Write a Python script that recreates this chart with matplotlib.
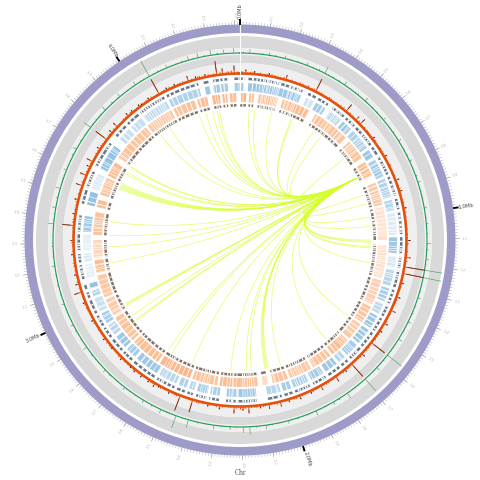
import numpy as np
import matplotlib
matplotlib.use('Agg')
import matplotlib.pyplot as plt

# all positions are degrees clockwise from the top of the circle
deg_per_mb = 81.5
genome_mb = 4.417

# outer histogram, spike position and height
red_pos = [16, 27, 39.5, 44, 46, 52.6, 60, 69, 73, 79, 90, 96, 99.3, 101.6, 120, 128, 138, 145, 151, 159, 166, 170,
           177, 179, 182, 196.5, 201, 209, 210.7, 216, 218.8, 220.7, 225, 229.8, 233.9, 241.3, 248, 251.8, 254.7,
           270, 275, 279, 284, 289, 292.8, 296, 298, 307, 312.7, 318, 320, 323, 324, 331, 337, 342, 344.7, 348, 352,
           354, 358, 2, 5, 10, 105, 110, 115, 123, 133, 141, 155, 163, 173, 187, 191, 205, 213, 265, 258, 303, 310,
           327, 334]
red_h = [5, 14, 9, 5, 7, 3, 3, 4, 3, 3, 3, 5, 21, 21, 4, 17, 17, 6, 5, 4, 5, 5,
         7, 4, 7, 13, 16, 2, 4, 3, 3, 2, 3, 2, 3, 3, 3, 8, 4,
         4, 12, 3, 4, 7, 7, 4, 7, 14, 6, 4, 3, 3, 2, 17, 3, 6, 3, 3, 14,
         6, 8, 4, 3, 3, 3, 4, 5, 3, 4, 3, 3, 3, 3, 4, 3, 3, 3, 3, 3, 4, 4,
         3, 3]
red_small_pos = [1, 3.5, 7, 8.5, 12, 14, 18, 20, 22, 24, 25.5, 29, 31, 33, 35, 37, 41, 43, 48, 50, 55, 57, 62, 64, 66,
                 71, 75, 77, 82, 85, 88, 92, 94, 103, 107, 112, 118, 125, 130, 135, 140, 143, 147, 149, 153, 157, 161,
                 165, 168, 172, 175, 180, 184, 186, 189, 193, 195, 198, 203, 207, 212, 215, 222, 227, 231, 236, 239,
                 244, 246, 250, 256, 261, 263, 268, 273, 277, 282, 286, 291, 294, 300, 301, 305, 309, 315, 316, 322,
                 326, 329, 333, 336, 339, 341, 346, 350, 351, 356, 357, 359]
red_small_h = [2, 2, 2, 1, 2, 1.5, 2, 1, 2, 2.5, 1.5, 2, 1, 2, 1.5, 2, 2, 1, 2, 1.5, 1, 2, 1, 1.5, 1,
               1.5, 1, 2, 1.5, 1, 1.5, 1, 2, 1, 1.5, 2, 1, 1.5, 2, 1.5, 2, 1, 1.5, 2, 1.5, 1, 2,
               1, 1.5, 2, 2, 2.5, 1.5, 2, 1, 1.5, 2, 1, 2, 1.5, 2, 1, 1.5, 1, 2, 1.5, 1,
               1, 2, 1.5, 1, 2, 1, 1.5, 1, 2, 1.5, 2, 1.5, 2, 1, 2, 1.5, 2, 1, 2, 1.5,
               2, 1, 2, 1.5, 2, 1, 2.5, 1.5, 2, 2.5, 3, 2]
red_fine_pos = [0.4, 2.6, 4.4, 6.2, 9.3, 11, 13.1, 15.2, 17.3, 19.1, 21, 23, 26.2, 28.1, 30, 32.2, 34.1, 36, 38.2,
                40.4, 42.3, 45.1, 47.2, 49.3, 51.2, 53.8, 56.1, 58.3, 61.2, 63.4, 65.3, 67.4, 70.2, 72.1, 74.2, 76.1,
                78.3, 80.4, 83.3, 86.2, 89.1, 91.3, 93.2, 95.1, 97.4, 104.2, 106.3, 108.4, 111.1, 113.3, 116.4, 119.2,
                121.6, 124.2, 126.4, 129.3, 131.2, 134.1, 136.3, 139.2, 142.1, 144.3, 146.2, 148.1, 150.3, 152.4,
                154.2, 156.1, 158.2, 160.3, 162.2, 164.1, 167.2, 169.1, 171.3, 174.2, 176.1, 178.3, 181.2, 183.1,
                185.2, 188.1, 190.2, 192.3, 194.2, 197.1, 199.3, 202.2, 204.1, 206.3, 208.2, 211.3, 214.1, 217.2,
                219.4, 221.5, 223.4, 226.2, 228.3, 230.4, 232.3, 235.1, 237.4, 240.2, 242.4, 245.1, 247.3, 249.2,
                253.1, 255.4, 257.2, 259.4, 262.1, 264.3, 266.2, 269.1, 271.3, 274.2, 276.1, 278.3, 280.4, 283.1,
                285.3, 287.4, 290.2, 293.3, 295.1, 297.2, 299.3, 302.1, 304.2, 306.1, 308.3, 311.2, 314.1, 317.2,
                319.3, 321.1, 325.2, 328.1, 330.2, 332.3, 335.1, 338.2, 340.1, 343.2, 345.3, 347.2, 349.1, 353.2, 355.3]
red_fine_h = [2, 1, 2, 1, 1.5, 2, 1, 2, 1, 1.5, 2, 1, 2, 1.5, 1, 2, 1, 1.5, 2,
              1, 1.5, 2, 1, 1.5, 1, 2, 1, 1.5, 1, 2, 1, 1.5, 1, 2, 1, 1.5,
              1, 2, 1, 1.5, 1, 2, 1, 1.5, 2, 1, 1.5, 1, 2, 1, 1.5, 2,
              1, 1.5, 2, 1, 1.5, 2, 1, 1.5, 2, 1, 1.5, 2, 1, 1.5,
              2, 1, 1.5, 2, 1, 1.5, 2, 1, 1.5, 2, 1.5, 2, 2, 1.5,
              1, 2, 1.5, 1, 2, 1.5, 1, 2, 1.5, 1, 2, 1.5, 1, 1.5,
              2, 1, 1.5, 2, 1, 1.5, 2, 1, 1.5, 2, 1, 1.5, 2, 1,
              1.5, 2, 1, 1.5, 2, 1, 1.5, 2, 1, 1.5, 2, 1, 1.5, 2,
              1, 1.5, 2, 1, 1.5, 2, 1, 1.5, 2, 1, 1.5, 2, 1, 1.5,
              2, 1, 1.5, 2, 1, 1.5, 2, 1.5, 2, 1.5, 2, 1.5, 2, 2.5, 2]

green_pos = [99.3, 101.6, 128, 138, 145, 27, 177, 179, 200, 196, 307, 275, 331, 351, 355, 358, 3, 9, 14, 21, 34, 42,
             50, 58, 65, 72, 80, 85, 91, 96, 108, 116, 122, 133, 150, 156, 165, 172, 183, 188, 205, 211, 218, 226,
             235, 243, 250, 262, 280, 286, 292, 299, 314, 320, 326, 337, 344, 347]
green_h = [18, 18, 18, 16, 6, 7, 8, 6, 13, 8, 8, 6, 18, 6, 4, 5, 4, 3, 3, 3, 4, 4,
           3, 3, 3, 3, 3, 2, 4, 3, 3, 3, 4, 4, 3, 5, 3, 4, 3, 4, 4, 3, 3, 3,
           4, 3, 3, 3, 4, 5, 3, 4, 5, 4, 4, 3, 4, 5]
green_small_pos = [1, 5, 7, 11, 16, 18, 23, 25, 30, 32, 37, 39, 45, 47, 53, 55, 61, 63, 68, 70, 75, 77, 83, 88, 93, 104,
                   106, 111, 113, 119, 125, 130, 135, 141, 143, 148, 153, 159, 162, 168, 170, 175, 181, 186, 191, 193,
                   198, 203, 208, 214, 216, 221, 224, 229, 232, 238, 241, 246, 248, 253, 256, 259, 265, 268, 271, 278,
                   283, 289, 295, 297, 302, 305, 310, 312, 317, 323, 329, 334, 340, 342, 349, 353]
green_small_h = [2, 1, 1.5, 2, 1, 1.5, 1, 2, 1, 1.5, 1, 2, 1, 1.5, 1, 2, 1, 1.5, 1, 2, 1, 1.5, 1, 1.5, 2, 1,
                 1.5, 1, 2, 1, 1.5, 2, 1, 1.5, 1, 2, 1, 1.5, 2, 1, 1.5, 2, 1, 1.5, 1, 2,
                 1, 1.5, 2, 1, 1.5, 1, 2, 1, 1.5, 1, 2, 1, 1.5, 1, 2, 1, 1.5, 2, 1, 1.5,
                 2, 1.5, 1, 2, 1.5, 1, 2, 1.5, 2, 1, 1.5, 2, 1, 2, 1.5, 2]

# gene blocks, start, end and shade
blue_start = [3, 25, 29, 35, 41, 46, 55, 59, 67, 75, 80, 89, 96, 101, 108, 114, 119, 125, 132, 138, 142, 148, 154, 161,
              165, 174, 181, 187.5, 192, 197, 200, 204, 212, 222, 227, 233, 238, 243, 249, 252, 256, 262, 266, 273,
              283, 289, 297, 310, 316, 322, 333, 347, 350, 353, 358]
blue_end = [23, 28, 33, 40, 45, 54, 58, 66, 74, 79, 88, 95, 100, 107, 113, 118, 124, 131, 137, 141, 147, 153, 160, 164,
            170, 180.5, 185, 191, 196, 199, 203, 211, 221, 226, 232, 237, 242, 248, 251, 254, 261, 265, 272, 279,
            288, 295, 307, 315, 321, 332, 345, 348.7, 352.5, 355.5, 361.5]
blue_shade = [.55, .25, .5, .35, .55, .45, .55, .5, .45, .4, .2, .55, .25, .4, .5, .35, .55, .55, .5, .4, .55, .5, .45,
              .5, .4, .55, .5, .45, .5, .4, .45, .4, .55, .5, .55, .4, .5, .3, .4, .6, .15, .2, .15, .55,
              .6, .2, .6, .3, .3, .35, .45, .55, .5, .5, .5]
orange_start = [0, 3.6, 7.2, 17, 31, 48, 58, 67, 77, 92, 106, 117, 125, 133, 142, 151, 161, 169, 173, 180, 189, 200,
                214, 227, 239, 247, 257, 263, 272, 283, 288, 296, 304, 321, 333, 343, 349, 353, 356]
orange_end = [2.5, 5.6, 15, 28, 46, 56, 64, 76, 90, 105, 116, 124, 132, 141, 150, 160, 167, 171, 180, 188, 199, 213,
              226, 238, 246, 256, 262, 270, 281, 286, 295, 302, 320, 332, 342, 347, 352, 355, 358.5]
orange_shade = [.6, .5, .5, .55, .5, .5, .55, .45, .25, .25, .4, .5, .45, .55, .5, .45, .5, .3, .5, .55, .5, .6,
                .55, .5, .45, .45, .55, .35, .5, .55, .5, .55, .5, .45, .5, .55, .6, .55, .55]

blue_gaps = [4.6, 6.1, 7.3, 9, 10.4, 12.2, 13.5, 14.6, 16.3, 17.9, 19.2, 20.8, 22, 26.5, 30.4, 31.8, 36.6, 38.2, 42.2,
             43.6, 47.4, 48.9, 50.2, 52.1, 56.3, 60.4, 62, 63.7, 65, 68.1, 69.8, 71.2, 72.9, 76.2, 77.8, 81.3, 82.6,
             84.4, 85.9, 87.2, 90.5, 92.3, 93.9, 97.1, 98.6, 102.4, 104, 105.6, 109.3, 110.8, 112.1, 115.4, 116.9,
             120.2, 122, 123.3, 126.7, 128.1, 129.9, 133.6, 135.2, 139.4, 143.3, 145.1, 149.4, 151, 155.2, 157, 158.8,
             162.4, 166.3, 168.2, 175.4, 177.1, 178.9, 182.6, 184, 188.7, 190.2, 193.1, 194.8, 201.3, 205.2, 206.9,
             208.4, 210, 213.5, 215.2, 217, 219.3, 223.4, 225, 228.2, 230.1, 234.4, 236, 239.2, 241, 244.6, 246.3,
             257.2, 258.9, 260.3, 263.2, 267.1, 268.8, 270.4, 274.6, 276.3, 277.8, 284.2, 286.1, 290.3, 292.2, 293.9,
             298.3, 300.1, 302, 304.2, 305.8, 311.6, 313.2, 317.1, 319, 323.4, 325.2, 327, 329.1, 330.8, 334.3, 336,
             338.2, 340.1, 342, 343.9, 351.1, 354.2, 359.6]
orange_gaps = [1.2, 4.6, 8.4, 9.9, 11.2, 12.8, 14.1, 18.3, 19.7, 21.4, 23, 24.6, 26.3, 32.1, 33.8, 35.4, 37.2, 38.9,
               40.7, 42.3, 44.2, 49.3, 51, 52.8, 54.4, 59.2, 60.8, 62.7, 68.3, 70.1, 71.9, 73.6, 75, 78.3, 80, 81.7,
               83.1, 84.9, 86.4, 88.2, 93.2, 94.9, 96.3, 98, 99.6, 101.2, 103.1, 107.3, 109, 110.7, 112.3, 114.2,
               118.4, 120, 121.8, 126.3, 128, 129.7, 134.2, 136.1, 138, 139.7, 143.4, 145.2, 147, 148.7, 152.3, 154.2,
               156, 158.1, 162.5, 164.3, 165.9, 174.4, 176.2, 178.1, 181.3, 183, 185.2, 186.9, 190.4, 192.3, 194.1,
               196, 197.9, 201.4, 203.2, 205.1, 207, 209, 211.1, 215.3, 217.2, 219, 221.2, 223.4, 228.3, 230.2, 232.1,
               234.3, 236.2, 240.4, 242.3, 244.2, 248.3, 250.2, 252.1, 254, 258.2, 260, 264.3, 266.2, 268.1, 273.4,
               275.2, 277, 279, 284.2, 289.3, 291, 293.1, 297.2, 299.4, 305.2, 307, 309.1, 311.3, 313.2, 315.1, 317.3,
               322.4, 324.3, 326.2, 328.1, 330, 334.2, 336, 338.2, 340.1, 344.2, 345.8, 350.2, 354, 357.2]

# link ends on the inner circle, every link starts from the same locus
link_source = 62
link_targets = [4, 6.5, 14, 23, 23.5, 34, 38, 52, 70, 74, 80, 84, 90, 90.5, 91, 93, 93.5, 100, 125, 139, 162,
                167.5, 168, 168.5, 169, 175, 177, 184, 201, 211, 213, 232, 232.5, 235, 240, 240.5, 241, 260, 267, 272,
                278, 293, 293.5, 294, 294.5, 295, 295.5, 300, 301, 303.6, 304, 323, 328, 342, 345, 348, 350, 351]

major_labels = ['0.0Mb', '1.0Mb', '2.0Mb', '3.0Mb', '4.0Mb']


def to_rad(v):
    return np.radians(np.asarray(v, dtype=float))


def radial_text(ax, angle, r, txt, **kw):
    rot = 90 - angle if angle % 360 <= 180 else 270 - angle
    ax.text(np.radians(angle), r, txt, rotation=rot, rotation_mode='anchor', ha='center', va='center', **kw)


def blocks(ax, start, end, shade, bottom, height, color):
    start = np.array(start)
    end = np.array(end)
    for s, e, a in zip(start, end, shade):
        ax.bar(np.radians(s), height, np.radians(e - s), bottom=bottom, align='edge', color=color, alpha=a, lw=0, zorder=3)


def stripes(ax, pos, bottom, height, width=0.25):
    ax.bar(to_rad(pos), height, np.radians(width), bottom=bottom, color='white', lw=0, zorder=4)


def spikes(ax, pos, h, base, color, lw):
    t = to_rad(pos)
    ax.vlines(t, base, base + np.array(h), color=color, lw=lw, zorder=6)


fig = plt.figure(figsize=(4.8, 4.8), dpi=100)
ax = fig.add_axes([0, 0, 1, 1], projection='polar')
ax.set_theta_zero_location('N')
ax.set_theta_direction(-1)
ax.set_ylim(0, 240)
ax.axis('off')

full = 2 * np.pi
ax.bar(0, 8.5, full, bottom=207, align='edge', color='#9e9bc8', lw=0, zorder=1)
ax.bar(0, 12, full, bottom=192, align='edge', color='#d9d9d9', lw=0, zorder=1)
ax.bar(0, 7, full, bottom=185, align='edge', color='#efefef', lw=0, zorder=1)
ax.bar(0, 8, full, bottom=177, align='edge', color='#d9d9d9', lw=0, zorder=1)
ax.bar(0, 9, full, bottom=168, align='edge', color='#efefef', lw=0, zorder=1)

# gene tracks
all_gaps = blue_gaps + orange_gaps
blocks(ax, blue_start, blue_end, blue_shade, 149, 8, '#4f9ad0')
stripes(ax, all_gaps, 149, 8)
blocks(ax, orange_start, orange_end, orange_shade, 138, 9, '#fb8a3c')
stripes(ax, all_gaps, 138, 9)
blocks(ax, blue_start, blue_end, [0.75] * len(blue_start), 160, 2.5, '#34495e')
stripes(ax, all_gaps, 160, 2.5, 0.5)
blocks(ax, orange_start, orange_end, [0.75] * len(orange_start), 133.5, 2.5, '#5a4334')
stripes(ax, all_gaps, 133.5, 2.5, 0.5)

# histograms
th = np.linspace(0, full, 721)
ax.plot(th, np.full(th.shape, 166.5), color='#e5500f', lw=1.9, zorder=5)
spikes(ax, red_small_pos, red_small_h, 166.5, '#e5500f', 0.8)
spikes(ax, red_fine_pos, np.array(red_fine_h) * 1.2, 166.5, '#e5500f', 0.6)
spikes(ax, red_pos, red_h, 166.5, '#e5500f', 0.7)
tall = [(p, h) for p, h in zip(red_pos, red_h) if h > 4]
ax.vlines(to_rad([p for p, h in tall]), [170 for p, h in tall], [166.5 + h for p, h in tall], color='#3a2a25', lw=0.5,
          alpha=0.8, zorder=7)
tips = [(p, h) for p, h in zip(red_pos, red_h) if h <= 4]
ax.vlines(to_rad([p for p, h in tips]), [166.5 + h - 1.5 for p, h in tips], [166.5 + h for p, h in tips], color='#222222',
          lw=0.6, zorder=7)
ax.plot(th, np.full(th.shape, 187), color='#1f9a55', lw=0.8, zorder=5)
spikes(ax, green_small_pos, np.array(green_small_h) * 0.7, 187, '#1f9a55', 0.5)
spikes(ax, red_fine_pos, np.array(red_fine_h) * 0.5, 187, '#1f9a55', 0.35)
spikes(ax, green_pos, green_h, 187, '#4f9e72', 0.45)

# links, cubic bezier pulled towards the middle of the circle
r_end = 131
r_ctrl_a = 38
r_ctrl_b = 60
t = np.linspace(0, 1, 80)
a0 = np.radians(link_source)
for target in link_targets:
    a1 = np.radians(target)
    p = [(r_end * np.sin(a0), r_end * np.cos(a0)), (r_ctrl_a * np.sin(a0), r_ctrl_a * np.cos(a0)),
         (r_ctrl_b * np.sin(a1), r_ctrl_b * np.cos(a1)), (r_end * np.sin(a1), r_end * np.cos(a1))]
    x = (1 - t) ** 3 * p[0][0] + 3 * (1 - t) ** 2 * t * p[1][0] + 3 * (1 - t) * t ** 2 * p[2][0] + t ** 3 * p[3][0]
    y = (1 - t) ** 3 * p[0][1] + 3 * (1 - t) ** 2 * t * p[1][1] + 3 * (1 - t) * t ** 2 * p[2][1] + t ** 3 * p[3][1]
    ax.plot(np.arctan2(x, y), np.hypot(x, y), color='#d4ff2a', lw=0.55, alpha=0.65, zorder=2)

# white seam where the genome starts
ax.vlines(0, 136, 216, color='white', lw=0.8, zorder=8)

# scale
minor = np.arange(0, 442) * 0.01
ax.vlines(np.radians(minor * deg_per_mb), 215.5, 218, color='#999999', lw=0.3, zorder=2)
for i in range(0, 45):
    mb = i / 10
    ang = mb * deg_per_mb
    if i % 10 == 0:
        ax.vlines(np.radians(ang), 215.5, 221, color='black', lw=1.4, zorder=9)
        radial_text(ax, ang, 229, major_labels[i // 10], fontsize=3.6, color='#444444')
    else:
        ax.vlines(np.radians(ang), 215.5, 220, color='#999999', lw=0.4, zorder=2)
        radial_text(ax, ang, 225, '%.1f' % mb, fontsize=2.8, color='#bbbbbb')

ax.text(np.pi, 233, 'Chr', ha='center', va='center', fontsize=5.5, color='#555555', family='Liberation Serif')

plt.savefig('out.png', dpi=100)
